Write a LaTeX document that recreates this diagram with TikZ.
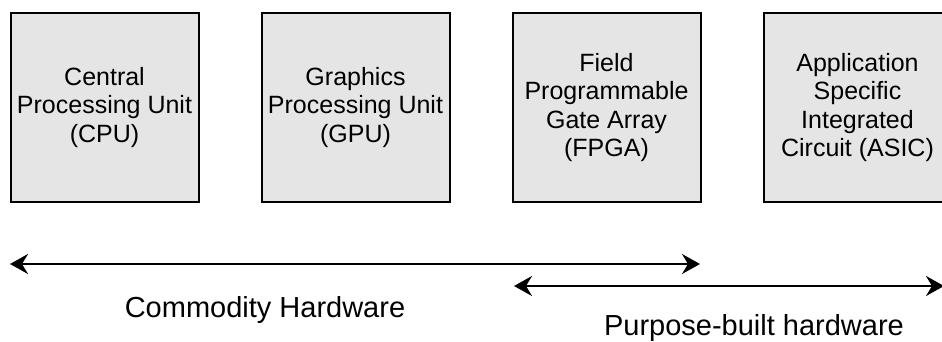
\documentclass[tikz,border=0pt]{standalone}
\usepackage{fontspec}
\setmainfont{Liberation Sans}
\usetikzlibrary{arrows.meta, positioning}

\begin{document}
\begin{tikzpicture}[x=1pt, y=-1pt,
  chip/.style={draw, rectangle, line width=2pt, fill=black!10, minimum width=188pt, minimum height=188pt, align=center, inner sep=0pt, font=\fontsize{25}{28.5}\selectfont},
  span/.style={{Stealth[length=18pt, width=20pt, inset=6pt]}-{Stealth[length=18pt, width=20pt, inset=6pt]}, line width=2.3pt},
  lbl/.style={anchor=base, font=\fontsize{29}{32}\selectfont}]
\useasboundingbox (0,0) rectangle (942,342);
% Bloques
\node[chip] (cpu) at (104.5,107.5) {Central\\Processing Unit\\(CPU)};
\node[chip] (gpu) at (355.5,107.5) {Graphics\\Processing Unit\\(GPU)};
\node[chip] (fpga) at (606.5,107.5) {Field\\Programmable\\Gate Array\\(FPGA)};
\node[chip] (asic) at (857.5,107.5) {Application\\Specific\\Integrated\\Circuit (ASIC)};

% Extremos de las flechas
\coordinate (c1) at (10,264);
\coordinate (c2) at (700,264);
\coordinate (p1) at (514,286);
\coordinate (p2) at (944,286);

% Flechas
\draw[span] (c1) -- (c2);
\draw[span] (p1) -- (p2);

% Etiquetas
\node[lbl] (commodity) at (265,317) {Commodity Hardware};
\node[lbl] (purpose) at (754,335) {Purpose-built hardware};
\end{tikzpicture}
\end{document}
